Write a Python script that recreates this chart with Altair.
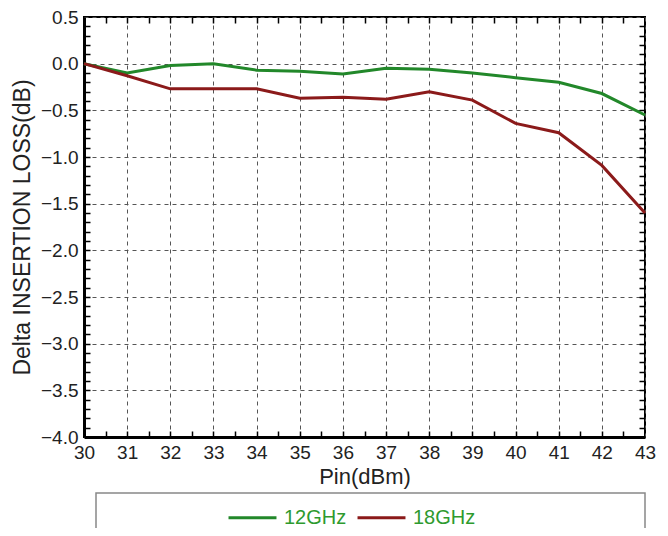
import altair as alt
import pandas as pd

pin = [30, 31, 32, 33, 34, 35, 36, 37, 38, 39, 40, 41, 42, 43]
loss_12 = [0.0, -0.10, -0.02, 0.0, -0.07, -0.08, -0.11, -0.05, -0.06, -0.10, -0.15, -0.20, -0.32, -0.55]
loss_18 = [0.0, -0.13, -0.27, -0.27, -0.27, -0.37, -0.36, -0.38, -0.30, -0.39, -0.64, -0.74, -1.09, -1.60]
series = ["12GHz", "18GHz"]
colors = ["#22882a", "#8b1a1a"]
y_ticks = [0.5, 0.0, -0.5, -1.0, -1.5, -2.0, -2.5, -3.0, -3.5, -4.0]
minor_y = [round(-4.0 + 0.1 * i, 1) for i in range(1, 45)]
minor_x = [30 + 0.5 * i for i in range(1, 26)]

rows = []
for p, a, b in zip(pin, loss_12, loss_18):
    rows.append({"pin": p, "loss": a, "series": series[0]})
    rows.append({"pin": p, "loss": b, "series": series[1]})
df = pd.DataFrame(rows)

FONT = "Liberation Sans"
xs = alt.Scale(domain=[30, 43], nice=False)
ys = alt.Scale(domain=[-4.0, 0.5], nice=False)

lines = alt.Chart(df).mark_line(strokeWidth=3).encode(
    x=alt.X("pin:Q", scale=xs,
            axis=alt.Axis(orient="bottom", title="Pin(dBm)", values=pin, format="d",
                          ticks=False, labelFlush=False,
                          domainWidth=3, domainColor="black", labelFontSize=19,
                          labelColor="#222", labelPadding=6, titleFontSize=22,
                          titleFontWeight="normal", titleColor="#222", titlePadding=4,
                          grid=True, gridDash=[4, 4], gridColor="#555")),
    y=alt.Y("loss:Q", scale=ys,
            axis=alt.Axis(orient="left", title="Delta INSERTION LOSS(dB)", values=y_ticks,
                          format=".1f", ticks=False, labelFlush=False,
                          domainWidth=3, domainColor="black",
                          labelFontSize=19, labelColor="#222", labelPadding=6,
                          titleFontSize=23, titleFontWeight="normal", titleColor="#222",
                          titlePadding=6, grid=True, gridDash=[4, 4], gridColor="#555")),
    color=alt.Color("series:N", scale=alt.Scale(domain=series, range=colors),
                    legend=alt.Legend(title=None, orient="none", direction="horizontal",
                                      legendX=143, legendY=475, symbolType="stroke",
                                      symbolSize=2300, symbolStrokeWidth=3,
                                      labelFontSize=20, labelColor="#2e9a2e",
                                      columnPadding=4, labelOffset=6)),
)


def minor_axis(orient, values):
    return alt.Axis(orient=orient, values=values, title="", labels=False, domain=False,
                    grid=False, ticks=True, tickSize=6, tickWidth=1.5,
                    tickColor="black", offset=-6)


dy = pd.DataFrame({"my": minor_y})
dx = pd.DataFrame({"mx": minor_x})
left_ticks = alt.Chart(dy).mark_point(opacity=0).encode(
    y=alt.Y("my:Q", scale=ys, axis=minor_axis("left", minor_y)))
right_ticks = alt.Chart(dy).mark_point(opacity=0).encode(
    y=alt.Y("my:Q", scale=ys, axis=minor_axis("right", minor_y)))
bottom_ticks = alt.Chart(dx).mark_point(opacity=0).encode(
    x=alt.X("mx:Q", scale=xs, axis=minor_axis("bottom", minor_x)))
top_ticks = alt.Chart(dx).mark_point(opacity=0).encode(
    x=alt.X("mx:Q", scale=xs, axis=minor_axis("top", minor_x)))

box = alt.Chart(pd.DataFrame({"k": [0]})).mark_rect(
    fill="white", stroke="#888", strokeWidth=1.5
).encode(x=alt.value(12), x2=alt.value(561), y=alt.value(476), y2=alt.value(540))

chart = alt.layer(lines, box, left_ticks, right_ticks, bottom_ticks, top_ticks).resolve_axis(
    x="independent", y="independent"
).properties(
    width=561, height=420,
    autosize=alt.AutoSizeParams(type="none"),
    padding={"left": 76, "top": 9, "right": 15, "bottom": 91},
).configure(font=FONT).configure_view(stroke="black", strokeWidth=2)

chart.save("out.html", embed_options={"renderer": "svg", "actions": False})
